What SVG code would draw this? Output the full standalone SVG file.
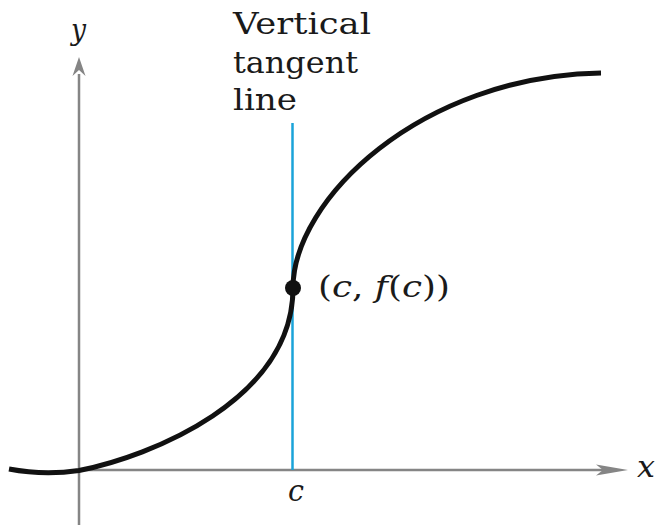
<svg xmlns="http://www.w3.org/2000/svg" width="656" height="525" viewBox="0 0 656 525">
<style>
.axis{stroke:#858585;stroke-width:2.5;fill:none}
.head{fill:#858585;stroke:none}
.curve{stroke:#111;stroke-width:5;fill:none;stroke-linecap:butt}
.tangent{stroke:#1aa3d9;stroke-width:2.5}
.lbl{font-family:'DejaVu Serif','Liberation Serif',serif;font-size:29px;fill:#1a1a1a}
.it{font-style:italic}
</style>
<rect width="656" height="525" fill="#fff"/>
<g id="connectors">
<line class="axis" x1="79" y1="74" x2="79" y2="525"/>
<path class="head" d="M79 57 L85.5 76 L79 70 L72.5 76 Z"/>
<line class="axis" x1="79" y1="470" x2="604" y2="470"/>
<path class="head" d="M628 470 L596 464.5 L603 470 L596 475.5 Z"/>
<line class="tangent" x1="292.5" y1="123" x2="292.5" y2="470"/>
</g>
<g id="curve">
<path class="curve" d="M9 469 C30 473 55 474 79 470.5 C150 456.5 293 400 293 288 C293 200 420 76 601 73"/>
</g>
<g id="point">
<circle cx="293" cy="288" r="8" fill="#111"/>
</g>
<g id="labels">
<text class="lbl it" x="71" y="40" textLength="15" lengthAdjust="spacingAndGlyphs">y</text>
<text class="lbl it" x="637" y="477" textLength="18" lengthAdjust="spacingAndGlyphs">x</text>
<text class="lbl it" x="288" y="501" textLength="16" lengthAdjust="spacingAndGlyphs">c</text>
<text class="lbl" x="233" y="34" textLength="138" lengthAdjust="spacingAndGlyphs">Vertical</text>
<text class="lbl" x="233" y="73" textLength="125" lengthAdjust="spacingAndGlyphs">tangent</text>
<text class="lbl" x="233" y="110" textLength="64" lengthAdjust="spacingAndGlyphs">line</text>
<text class="lbl" x="318" y="297" textLength="132" lengthAdjust="spacingAndGlyphs">(<tspan class="it">c</tspan>, <tspan class="it">f</tspan>(<tspan class="it">c</tspan>))</text>
</g>
</svg>
